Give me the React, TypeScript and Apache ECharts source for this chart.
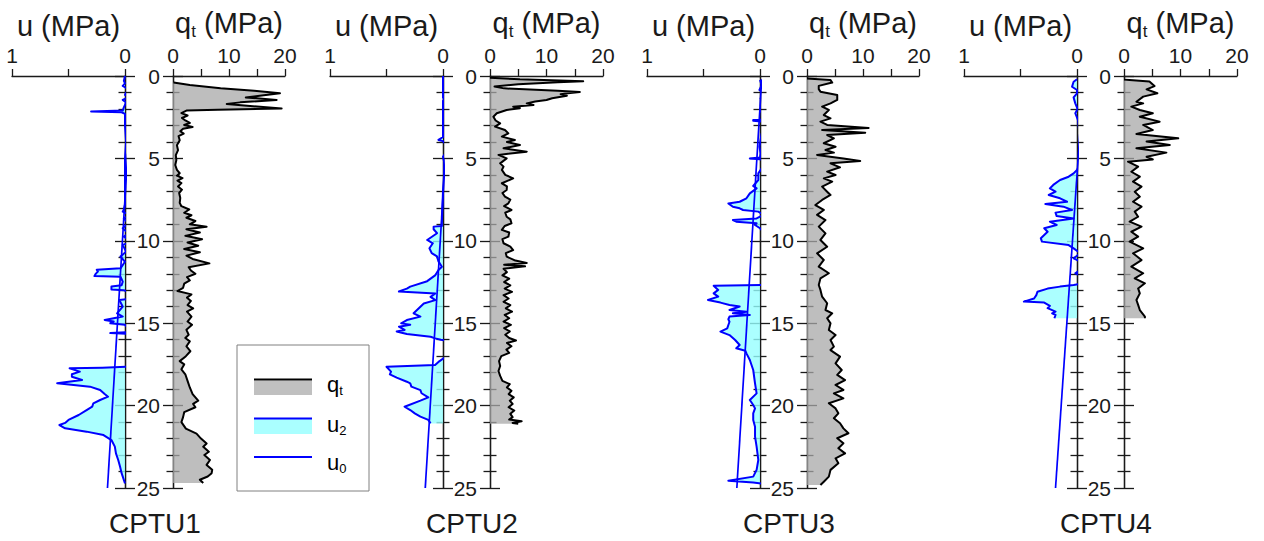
import React, { useEffect, useRef } from 'react';
import * as echarts from 'echarts';

const FONT = '"Liberation Sans", Arial, Helvetica, sans-serif';

// ---------- DATA: [depth (m), value (MPa)] ----------
const qt1: number[][] = [
  [0.4, 0.1], [0.55, 3.0], [0.75, 8.5], [0.9, 14.5], [1.05, 19.1], [1.2, 15.5], [1.3, 13.0], [1.45, 18.5], [1.6, 12.0], [1.7, 9.6],
  [1.85, 15.0], [1.97, 19.4], [2.05, 8.0], [2.1, 2.4], [2.25, 1.5], [2.4, 2.6], [2.55, 1.6], [2.7, 2.2], [2.85, 3.0], [2.97, 2.0],
  [3.1, 3.5], [3.2, 1.8], [3.35, 1.3], [3.5, 1.9], [3.65, 1.0], [3.9, 1.2], [4.2, 0.7], [4.5, 0.9], [4.8, 0.5], [5.1, 0.6],
  [5.4, 0.4], [5.7, 0.7], [5.9, 1.2], [6.05, 0.7], [6.2, 1.7], [6.35, 0.8], [6.5, 1.5], [6.7, 0.9], [6.9, 1.6], [7.1, 1.1],
  [7.4, 1.3], [7.7, 1.2], [7.9, 1.5], [8.1, 2.9], [8.3, 2.0], [8.45, 3.3], [8.6, 2.4], [8.8, 4.0], [9.0, 3.0], [9.15, 6.0],
  [9.3, 2.4], [9.5, 4.8], [9.7, 2.2], [9.9, 5.2], [10.1, 2.6], [10.3, 4.5], [10.5, 2.0], [10.7, 4.8], [10.9, 2.4], [11.1, 3.5],
  [11.37, 6.5], [11.6, 2.8], [11.8, 3.2], [12.0, 4.0], [12.2, 2.5], [12.4, 3.0], [12.6, 2.0], [12.85, 1.8], [13.05, 0.8], [13.25, 3.3],
  [13.45, 2.5], [13.65, 3.2], [13.9, 2.6], [14.1, 3.6], [14.3, 2.5], [14.6, 3.3], [14.9, 2.6], [15.1, 3.4], [15.4, 2.4], [15.7, 2.8],
  [15.9, 2.2], [16.1, 3.0], [16.4, 2.4], [16.7, 3.1], [17.0, 2.3], [17.3, 1.2], [17.5, 2.0], [17.8, 1.5], [18.1, 2.2], [18.5, 2.6],
  [18.9, 3.0], [19.3, 3.5], [19.7, 4.5], [19.9, 3.6], [20.1, 4.0], [20.4, 2.0], [20.7, 1.8], [21.0, 1.5], [21.4, 2.3], [21.7, 4.2],
  [22.0, 5.0], [22.3, 6.0], [22.5, 5.4], [22.8, 6.4], [23.0, 5.6], [23.3, 6.6], [23.6, 6.0], [23.9, 7.0], [24.1, 6.9], [24.3, 6.2],
  [24.5, 4.8], [24.7, 5.4],
];

const u2_1: number[][] = [
  [0, 0], [0.3, 0.01], [0.45, 0.0], [0.6, 0.02], [0.85, -0.04], [1.0, -0.01], [1.15, 0.0], [1.25, -0.04], [1.45, 0.02], [1.6, -0.01],
  [1.75, 0.0], [1.9, 0.01], [2.1, 0.02], [2.15, 0.3], [2.2, 0.03], [2.3, 0.0], [3.0, 0.0], [4.0, -0.01], [5.0, 0.0], [6.0, 0.0],
  [7.0, 0.0], [7.8, 0.0], [8.1, 0.01], [8.23, 0.02], [8.43, -0.04], [8.64, 0.01], [8.94, -0.03], [9.24, 0.02], [9.55, -0.03], [9.75, 0.01],
  [10.05, -0.06], [10.25, 0.02], [10.66, -0.01], [10.96, 0.04], [11.27, 0.0], [11.67, 0.04], [11.75, 0.25], [11.87, 0.24], [12.01, 0.26], [12.14, 0.27],
  [12.18, 0.04], [12.48, 0.02], [12.7, 0.03], [12.78, 0.12], [12.95, 0.12], [13.0, 0.01], [13.19, -0.07], [13.4, -0.02], [13.5, -0.06], [13.59, 0.05],
  [14.0, 0.02], [14.4, 0.07], [14.6, 0.02], [14.7, 0.1], [14.8, 0.18], [14.9, 0.1], [15.0, 0.13], [15.1, 0.0], [15.4, -0.04], [15.55, -0.03],
  [15.6, 0.13], [15.65, -0.05], [16.0, -0.07], [16.6, -0.09], [17.0, -0.08], [17.4, -0.09], [17.63, -0.07], [17.7, 0.2], [17.74, 0.49], [17.94, 0.4],
  [18.1, 0.47], [18.25, 0.47], [18.45, 0.38], [18.6, 0.55], [18.65, 0.6], [18.85, 0.31], [19.05, 0.22], [19.3, 0.18], [19.46, 0.15], [19.66, 0.22],
  [19.86, 0.28], [20.06, 0.29], [20.27, 0.34], [20.57, 0.41], [20.87, 0.5], [21.05, 0.53], [21.18, 0.58], [21.38, 0.53], [21.58, 0.34], [21.79, 0.19],
  [22.09, 0.12], [22.49, 0.09], [22.9, 0.08], [23.3, 0.06], [23.7, 0.044], [24.1, 0.03], [24.72, 0.0],
];
const u0_1: number[][] = [[4.7, -0.024], [25, 0.155]];

const qt2: number[][] = [
  [0.1, 0], [0.2, 5.3], [0.32, 16.5], [0.38, 12.0], [0.5, 5.0], [0.64, 0.8], [0.75, 2.5], [0.9, 12.0], [0.97, 15.9], [1.1, 12.5],
  [1.2, 13.6], [1.35, 11.0], [1.46, 10.0], [1.55, 8.0], [1.66, 6.5], [1.76, 7.7], [1.86, 4.1], [1.95, 5.3], [2.06, 2.95], [2.26, 1.2],
  [2.47, 0.6], [2.7, 1.0], [2.87, 1.8], [3.07, 0.9], [3.28, 2.65], [3.48, 3.25], [3.68, 2.1], [3.88, 4.4], [4.0, 3.0], [4.19, 5.3],
  [4.39, 2.4], [4.59, 6.5], [4.79, 1.5], [5.0, 2.95], [5.3, 1.8], [5.5, 2.4], [5.7, 2.1], [6.0, 2.7], [6.21, 4.1], [6.51, 2.1],
  [6.7, 3.0], [6.92, 2.95], [7.1, 2.2], [7.32, 2.65], [7.5, 3.6], [7.73, 3.25], [7.9, 2.5], [8.13, 3.8], [8.3, 2.7], [8.54, 2.95],
  [8.7, 3.6], [8.94, 3.8], [9.1, 2.6], [9.34, 2.1], [9.5, 3.4], [9.75, 3.25], [9.9, 2.2], [10.15, 2.4], [10.35, 3.6], [10.56, 4.1],
  [10.75, 2.8], [10.96, 2.95], [11.2, 4.5], [11.35, 6.5], [11.45, 2.5], [11.55, 6.2], [11.7, 2.4], [11.9, 3.0], [12.1, 2.2], [12.3, 3.4],
  [12.5, 2.5], [12.7, 3.6], [12.9, 2.6], [13.1, 3.9], [13.3, 2.4], [13.5, 3.3], [13.7, 2.4], [13.9, 3.6], [14.1, 2.8], [14.3, 3.9],
  [14.5, 2.6], [14.7, 3.4], [14.9, 2.4], [15.1, 3.7], [15.3, 2.5], [15.5, 3.5], [15.7, 2.7], [15.9, 3.4], [16.05, 4.6], [16.2, 3.0],
  [16.4, 3.8], [16.6, 2.9], [16.8, 3.4], [17.0, 2.0], [17.3, 1.6], [17.6, 1.8], [17.9, 1.5], [18.2, 1.8], [18.5, 2.2], [18.7, 3.5],
  [18.9, 3.0], [19.1, 3.8], [19.3, 3.3], [19.5, 4.2], [19.7, 3.5], [19.9, 4.0], [20.1, 3.3], [20.3, 4.3], [20.5, 3.6], [20.7, 4.0],
  [20.85, 3.4], [20.95, 5.6], [21.05, 4.0], [21.1, 5.0],
];

const u2_2: number[][] = [
  [0, 0], [1.3, 0.0], [1.4, -0.01], [1.5, 0.0], [3.7, 0.0], [3.88, 0.04], [3.95, 0.0], [4.39, -0.05], [4.5, -0.02], [4.59, -0.05],
  [4.7, -0.02], [4.9, 0.0], [5.2, -0.01], [6.0, -0.01], [7.0, 0.0], [8.0, 0.005], [8.94, 0.01], [9.1, 0.01], [9.14, 0.083], [9.3, 0.083],
  [9.54, 0.053], [9.95, 0.14], [10.15, 0.09], [10.45, 0.12], [10.75, 0.1], [10.95, 0.053], [11.25, 0.04], [11.57, 0.01], [11.77, 0.04], [12.1, 0.07],
  [12.45, 0.14], [12.78, 0.29], [12.9, 0.32], [13.08, 0.39], [13.2, 0.068], [13.4, 0.11], [13.6, 0.068], [13.8, 0.17], [14.0, 0.2], [14.2, 0.23],
  [14.4, 0.26], [14.6, 0.2], [14.81, 0.32], [15.01, 0.37], [15.1, 0.29], [15.21, 0.39], [15.41, 0.34], [15.5, 0.41], [15.65, 0.32], [15.82, 0.11],
  [15.92, 0.068], [16.0, 0.02], [16.05, -0.02], [16.12, -0.05], [16.43, -0.065], [16.8, -0.05], [17.03, -0.035], [17.13, -0.005], [17.35, 0.04], [17.54, 0.07],
  [17.64, 0.5], [17.94, 0.46], [18.1, 0.47], [18.3, 0.41], [18.55, 0.32], [18.65, 0.29], [18.85, 0.28], [19.06, 0.2], [19.25, 0.19], [19.5, 0.13],
  [19.7, 0.2], [20.07, 0.34], [20.27, 0.29], [20.47, 0.25], [20.67, 0.2], [20.87, 0.13], [21.08, 0.11],
];
const u0_2: number[][] = [[5, -0.02], [25, 0.157]];

const qt3: number[][] = [
  [0.15, 0], [0.25, 4.2], [0.4, 4.5], [0.6, 2.1], [0.8, 2.1], [0.95, 2.4], [1.15, 5.4], [1.45, 5.4], [1.66, 4.2], [1.86, 2.7],
  [2.06, 3.9], [2.37, 3.0], [2.57, 4.2], [2.77, 2.4], [2.97, 3.6], [3.15, 11.0], [3.28, 2.7], [3.44, 10.4], [3.58, 3.6], [3.78, 4.8],
  [4.08, 3.0], [4.29, 5.1], [4.49, 3.3], [4.65, 4.8], [4.79, 1.8], [5.0, 6.5], [5.16, 9.5], [5.3, 4.2], [5.54, 5.9], [5.8, 3.6],
  [6.01, 5.1], [6.21, 3.0], [6.41, 4.5], [6.71, 2.7], [7.02, 3.6], [7.22, 4.2], [7.52, 2.7], [7.83, 1.5], [8.13, 3.0], [8.43, 1.8],
  [8.74, 3.3], [9.14, 2.1], [9.55, 3.3], [9.95, 2.4], [10.36, 3.6], [10.76, 1.8], [11.16, 3.0], [11.57, 2.1], [11.97, 3.9], [12.28, 2.4],
  [12.68, 2.1], [12.98, 2.4], [13.39, 2.7], [13.79, 3.6], [14.2, 3.3], [14.4, 4.5], [14.7, 3.6], [15.01, 4.2], [15.41, 3.9], [15.72, 5.1],
  [16.02, 4.2], [16.42, 4.8], [16.63, 4.2], [17.03, 5.9], [17.44, 5.1], [17.84, 6.2], [18.14, 5.4], [18.45, 6.8], [18.75, 5.1], [19.05, 6.5],
  [19.26, 4.8], [19.56, 6.5], [19.86, 3.9], [20.17, 5.1], [20.47, 5.6], [20.77, 4.8], [21.07, 5.9], [21.38, 6.5], [21.68, 7.4], [21.98, 5.4],
  [22.29, 6.5], [22.59, 5.6], [22.9, 6.8], [23.2, 5.1], [23.5, 5.6], [23.9, 4.2], [24.31, 3.9], [24.62, 3.0], [24.82, 2.4],
];

const u2_3: number[][] = [
  [0.24, 0.0], [0.55, -0.015], [0.85, 0.005], [1.05, -0.03], [1.36, -0.005], [1.66, -0.025], [2.06, 0.0], [2.37, -0.03], [2.65, -0.01], [2.67, 0.06],
  [2.72, 0.06], [2.77, -0.015], [3.07, -0.03], [3.28, -0.044], [3.48, -0.015], [3.88, -0.005], [4.29, 0.005], [4.69, -0.005], [4.95, 0.0], [5.0, 0.09],
  [5.05, 0.0], [5.1, -0.03], [5.3, -0.044], [5.6, -0.015], [5.91, 0.015], [6.31, 0.015], [6.67, 0.06], [6.82, 0.03], [7.12, 0.09], [7.42, 0.12],
  [7.63, 0.18], [7.73, 0.28], [7.93, 0.24], [8.03, 0.18], [8.13, 0.15], [8.23, 0.015], [8.43, -0.03], [8.64, 0.03], [8.74, 0.24], [8.84, 0.21],
  [8.94, 0.03], [9.04, 0.044], [9.24, 0.0], [9.55, -0.044], [9.85, -0.015], [10.15, -0.06], [10.56, -0.044], [10.96, -0.06], [11.37, -0.044], [11.6, -0.06],
  [11.97, -0.06], [12.38, -0.044], [12.68, -0.044], [12.73, 0.41], [12.98, 0.37], [13.19, 0.41], [13.39, 0.37], [13.59, 0.46], [13.75, 0.35], [13.89, 0.27],
  [13.99, 0.18], [14.2, 0.27], [14.3, 0.12], [14.4, 0.24], [14.5, 0.09], [14.6, 0.27], [14.76, 0.28], [14.91, 0.27], [15.11, 0.28], [15.31, 0.29],
  [15.51, 0.35], [15.72, 0.27], [16.02, 0.22], [16.32, 0.18], [16.52, 0.21], [16.67, 0.13], [16.83, 0.12], [17.23, 0.09], [17.84, 0.06], [18.65, 0.044],
  [19.26, 0.03], [19.66, 0.09], [19.96, 0.06], [20.17, 0.044], [20.47, 0.06], [20.87, 0.06], [21.28, 0.044], [21.88, 0.044], [22.49, 0.03], [23.3, 0.015],
  [23.9, 0.03], [24.31, 0.06], [24.56, 0.28], [24.66, 0.06], [24.76, -0.044], [24.88, -0.06],
];
const u0_3: number[][] = [[0.2, -0.015], [25, 0.205]];

const qt4: number[][] = [
  [0.22, 0], [0.24, 1.0], [0.34, 4.5], [0.61, 5.4], [0.81, 4.0], [1.05, 5.9], [1.25, 3.4], [1.56, 2.2], [1.66, 3.4], [1.86, 1.3],
  [2.06, 2.8], [2.26, 5.1], [2.47, 2.8], [2.77, 6.3], [2.97, 3.4], [3.28, 5.1], [3.52, 2.2], [3.78, 9.6], [3.98, 4.0], [4.19, 8.1],
  [4.39, 2.2], [4.65, 7.5], [4.9, 4.0], [5.06, 5.1], [5.2, 0.7], [5.5, 2.5], [5.81, 1.3], [6.11, 2.8], [6.41, 1.6], [6.71, 3.1],
  [7.02, 1.9], [7.32, 2.8], [7.63, 1.6], [7.93, 3.1], [8.23, 1.9], [8.54, 2.5], [8.84, 1.0], [9.14, 3.1], [9.45, 1.3], [9.75, 2.5],
  [10.05, 1.0], [10.46, 3.4], [10.76, 1.6], [11.17, 3.1], [11.57, 1.3], [11.97, 3.4], [12.28, 1.9], [12.58, 3.7], [12.89, 2.5], [13.19, 2.8],
  [13.59, 2.2], [13.89, 2.5], [14.2, 2.8], [14.6, 3.7], [14.7, 3.7],
];

const u2_4: number[][] = [
  [0.2, 0.0], [0.35, 0.03], [0.65, 0.044], [0.85, 0.0], [1.05, 0.0], [1.3, 0.03], [1.66, 0.015], [2.0, -0.005], [2.26, 0.015], [2.7, -0.01],
  [3.07, -0.015], [3.4, -0.02], [3.68, -0.044], [4.09, -0.06], [4.3, -0.05], [4.49, -0.09], [4.7, -0.07], [4.9, -0.06], [5.3, -0.03], [5.7, 0.0],
  [5.91, 0.03], [6.11, 0.074], [6.31, 0.15], [6.61, 0.21], [6.82, 0.24], [7.02, 0.19], [7.22, 0.25], [7.42, 0.15], [7.63, 0.088], [7.77, 0.28],
  [7.93, 0.12], [8.13, 0.044], [8.29, 0.19], [8.5, 0.18], [8.64, 0.03], [8.84, 0.24], [9.04, 0.18], [9.24, 0.29], [9.45, 0.26], [9.65, 0.29],
  [9.85, 0.32], [10.05, 0.31], [10.26, 0.074], [10.46, 0.03], [10.76, -0.03], [11.06, 0.03], [11.37, -0.06], [11.57, -0.07], [11.97, 0.015], [12.17, -0.06],
  [12.4, -0.07], [12.58, -0.06], [12.68, 0.03], [12.78, 0.15], [12.9, 0.26], [13.09, 0.35], [13.3, 0.36], [13.5, 0.38], [13.69, 0.47], [13.75, 0.29],
  [13.95, 0.24], [14.09, 0.26], [14.3, 0.19], [14.4, 0.22], [14.5, 0.19], [14.7, 0.2],
];
const u0_4: number[][] = [[3.0, -0.03], [25, 0.19]];

const panelNames = ['CPTU1', 'CPTU2', 'CPTU3', 'CPTU4'];
const qtData = [qt1, qt2, qt3, qt4];
const u2Data = [u2_1, u2_2, u2_3, u2_4];
const u0Data = [u0_1, u0_2, u0_3, u0_4];

const depthMin = 0;
const depthMax = 25;
const uMax = 1;
const qtMax = 20;

// ---------- LAYOUT ----------
const PANELS = [
  { uL: 12, uR: 125, qL: 173, qR: 285 },
  { uL: 330, uR: 443, qL: 490, qR: 603 },
  { uL: 647, uR: 760, qL: 807, qR: 919 },
  { uL: 964, uR: 1077, qL: 1124, qR: 1237 },
];
const TOP = 76;
const BOTTOM = 488;

const INK = '#1a1a1a';
const BLUE = '#0000ff';
const QT_FILL = 'rgba(168,168,168,0.75)';
const U_FILL = 'rgba(150,255,255,0.8)';

function fillPoly(pts: number[][]): number[][] {
  const out: number[][] = [[0, pts[0][0]]];
  for (let i = 0; i < pts.length; i++) {
    const [d, v] = pts[i];
    if (i > 0) {
      const [pd, pv] = pts[i - 1];
      if ((pv > 0 && v < 0) || (pv < 0 && v > 0)) {
        const t = pv / (pv - v);
        out.push([0, pd + t * (d - pd)]);
      }
    }
    out.push([Math.max(v, 0), d]);
  }
  out.push([0, pts[pts.length - 1][0]]);
  return out;
}

function fillSeries(pts: number[][], xi: number, yi: number, color: string) {
  const poly = fillPoly(pts);
  return {
    type: 'custom',
    coordinateSystem: 'cartesian2d',
    xAxisIndex: xi,
    yAxisIndex: yi,
    z: 1,
    silent: true,
    clip: true,
    data: pts.map(([d, v]) => [v, d]),
    renderItem: (params: any, api: any) => {
      if (params.dataIndex !== 0) return null;
      const points = poly.map((p) => api.coord(p));
      return { type: 'polygon', shape: { points }, style: { fill: color }, silent: true };
    },
  };
}

function lineSeries(pts: number[][], xi: number, yi: number, color: string, width: number) {
  return {
    type: 'line',
    xAxisIndex: xi,
    yAxisIndex: yi,
    z: 3,
    silent: true,
    showSymbol: false,
    symbol: 'none',
    clip: true,
    data: pts.map(([d, v]) => [v, d]),
    lineStyle: { color, width, join: 'round' },
  };
}

const rich = {
  a: { fontSize: 29, fontFamily: FONT, color: INK, lineHeight: 34 },
  s: { fontSize: 17, fontFamily: FONT, color: INK, lineHeight: 17, verticalAlign: 'bottom' },
};
const richSmall = {
  a: { fontSize: 22, fontFamily: FONT, color: INK, lineHeight: 26 },
  s: { fontSize: 13, fontFamily: FONT, color: INK, lineHeight: 13, verticalAlign: 'bottom' },
};

function depthAxis(gridIndex: number, position: 'left' | 'right', inside: boolean, labels: boolean) {
  return {
    type: 'value',
    gridIndex,
    position,
    min: depthMin,
    max: depthMax,
    interval: 5,
    inverse: true,
    axisLine: { show: true, lineStyle: { color: INK, width: 1.3 } },
    axisTick: { show: true, inside, length: 10, lineStyle: { color: INK, width: 1.3 } },
    minorTick: { show: true, splitNumber: 5, length: 6.5, lineStyle: { color: INK, width: 1.3 } },
    splitLine: { show: false },
    axisLabel: labels
      ? { show: true, fontSize: 21, fontFamily: FONT, color: INK, margin: 13 }
      : { show: false },
  };
}

export default function App() {
  const ref = useRef<HTMLDivElement>(null);

  useEffect(() => {
    if (!ref.current) return;
    const chart = echarts.init(ref.current, undefined, { renderer: 'svg' });

    const grid: any[] = [];
    const xAxis: any[] = [];
    const yAxis: any[] = [];
    const series: any[] = [];
    const graphic: any[] = [];

    PANELS.forEach((p, i) => {
      grid.push({ left: p.uL, top: TOP, width: p.uR - p.uL, height: BOTTOM - TOP });
      grid.push({ left: p.qL, top: TOP, width: p.qR - p.qL, height: BOTTOM - TOP });

      xAxis.push({
        type: 'value',
        gridIndex: 2 * i,
        position: 'top',
        min: 0,
        max: uMax,
        interval: 0.5,
        inverse: true,
        name: '{a|u (MPa)}',
        nameLocation: 'middle',
        nameGap: 28,
        nameTextStyle: { rich },
        axisLine: { show: true, lineStyle: { color: INK, width: 1.3 } },
        axisTick: { show: true, length: 7, lineStyle: { color: INK, width: 1.3 } },
        splitLine: { show: false },
        axisLabel: {
          fontSize: 21,
          fontFamily: FONT,
          color: INK,
          margin: 10,
          formatter: (v: number) => (v === 0 || v === 1 ? String(v) : ''),
        },
      });
      xAxis.push({
        type: 'value',
        gridIndex: 2 * i + 1,
        position: 'top',
        min: 0,
        max: qtMax,
        interval: 5,
        name: '{a|q}{s|t}{a| (MPa)}',
        nameLocation: 'middle',
        nameGap: 28,
        nameTextStyle: { rich },
        axisLine: { show: true, lineStyle: { color: INK, width: 1.3 } },
        axisTick: { show: true, length: 7, lineStyle: { color: INK, width: 1.3 } },
        splitLine: { show: false },
        axisLabel: {
          fontSize: 21,
          fontFamily: FONT,
          color: INK,
          margin: 10,
          formatter: (v: number) => (v % 10 === 0 ? String(v) : ''),
        },
      });

      yAxis.push(depthAxis(2 * i, 'right', false, false));
      yAxis.push(depthAxis(2 * i, 'right', true, false));
      yAxis.push(depthAxis(2 * i + 1, 'left', false, true));
      yAxis.push(depthAxis(2 * i + 1, 'left', true, false));

      series.push(fillSeries(qtData[i], 2 * i + 1, 4 * i + 2, QT_FILL));
      series.push(lineSeries(qtData[i], 2 * i + 1, 4 * i + 2, '#000000', 2));
      series.push(fillSeries(u2Data[i], 2 * i, 4 * i, U_FILL));
      series.push(lineSeries(u2Data[i], 2 * i, 4 * i, BLUE, 2));
      series.push(lineSeries(u0Data[i], 2 * i, 4 * i, BLUE, 1.7));

      graphic.push({
        type: 'text',
        x: p.qL - 18,
        y: 523,
        style: {
          text: panelNames[i],
          fontSize: 28,
          fontFamily: FONT,
          fill: INK,
          align: 'center',
          verticalAlign: 'middle',
          textAlign: 'center',
          textVerticalAlign: 'middle',
        },
      });
    });

    const LX = 254;
    const LW = 58;
    graphic.push(
      { type: 'rect', shape: { x: 237, y: 345, width: 132, height: 146 }, style: { fill: '#fff', stroke: '#808080', lineWidth: 1 }, z: 10 },
      { type: 'rect', shape: { x: LX, y: 380.5, width: LW, height: 14.5 }, style: { fill: '#c0c0c0' }, z: 11 },
      { type: 'line', shape: { x1: LX, y1: 379.5, x2: LX + LW, y2: 379.5 }, style: { stroke: '#000', lineWidth: 2.2 }, z: 12 },
      { type: 'rect', shape: { x: LX, y: 419, width: LW, height: 15 }, style: { fill: '#aaffff' }, z: 11 },
      { type: 'line', shape: { x1: LX, y1: 418.5, x2: LX + LW, y2: 418.5 }, style: { stroke: BLUE, lineWidth: 2 }, z: 12 },
      { type: 'line', shape: { x1: LX, y1: 457, x2: LX + LW, y2: 457 }, style: { stroke: BLUE, lineWidth: 2 }, z: 12 },
      {
        type: 'text', x: 327, y: 384, z: 12,
        style: { text: '{a|q}{s|t}', rich: richSmall, verticalAlign: 'middle', textVerticalAlign: 'middle' },
      },
      {
        type: 'text', x: 327, y: 424, z: 12,
        style: { text: '{a|u}{s|2}', rich: richSmall, verticalAlign: 'middle', textVerticalAlign: 'middle' },
      },
      {
        type: 'text', x: 327, y: 462, z: 12,
        style: { text: '{a|u}{s|0}', rich: richSmall, verticalAlign: 'middle', textVerticalAlign: 'middle' },
      },
    );

    chart.setOption({
      animation: false,
      backgroundColor: '#ffffff',
      textStyle: { fontFamily: FONT },
      grid,
      xAxis,
      yAxis,
      series,
      graphic,
    });

    return () => {
      chart.dispose();
    };
  }, []);

  return (
    <div
      ref={ref}
      style={{ position: 'fixed', left: 0, top: 0, width: 1264, height: 541, background: '#fff' }}
    />
  );
}
